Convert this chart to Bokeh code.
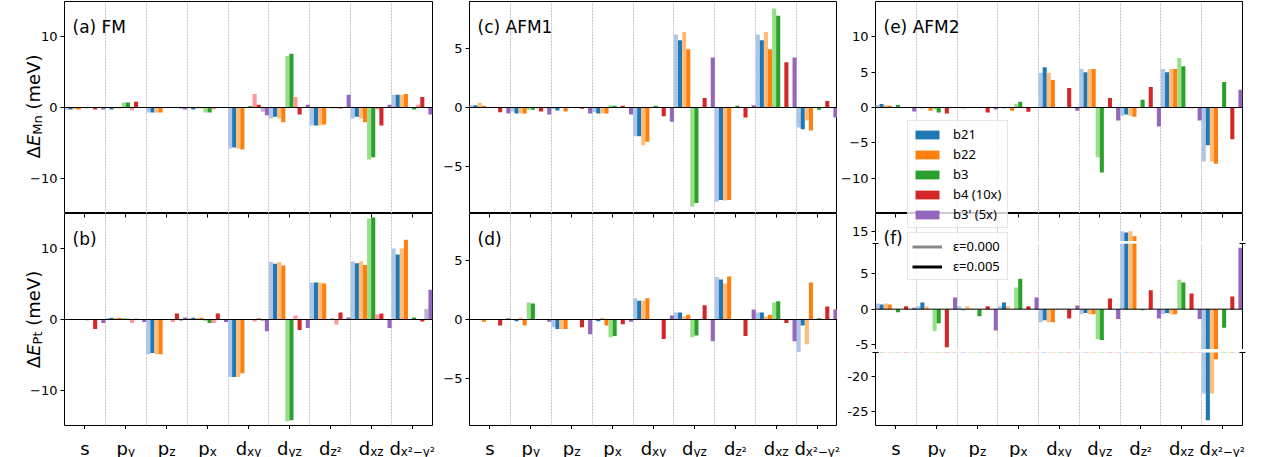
import math
from bokeh.plotting import figure
from bokeh.models import (Range1d, FixedTicker, Span, Label, Legend, LegendItem,
                          LinearAxis, ColumnDataSource, GridBox, Spacer)
from bokeh.core.properties import value
from bokeh.layouts import row, column
from bokeh.embed import file_html
from bokeh.resources import INLINE

# ---------------- data ----------------
ORBITALS = ["s", "py", "pz", "px", "dxy", "dyz", "dz2", "dxz", "dx2-y2"]
TICK_MAIN = ["s", "p", "p", "p", "d", "d", "d", "d", "d"]
TICK_SUB = ["", "y", "z", "x", "xy", "yz", "z²", "xz", "x²−y²"]
SERIES = ["b21", "b22", "b3", "b4 (10x)", "b3' (5x)"]
EPS_LABELS = ["ε=0.000", "ε=0.005"]

# (a) FM, Mn
a_b21_0 = [-0.3, 0.0, -0.7, 0.0, -5.8, -1.55, -2.55, -1.55, 1.8]
a_b21_5 = [-0.3, -0.3, -0.7, -0.3, -5.65, -1.3, -2.55, -1.3, 1.8]
a_b22_0 = [-0.3, -0.1, -0.7, -0.1, -5.8, -1.55, -2.55, -1.55, 1.8]
a_b22_5 = [-0.3, -0.1, -0.7, -0.1, -5.95, -2.1, -2.4, -2.1, 1.9]
a_b3_0 = [0.0, 0.7, 0.0, -0.7, 0.0, 7.3, 0.0, -7.35, 0.0]
a_b3_5 = [-0.1, 0.7, 0.0, -0.7, 0.2, 7.6, -0.1, -7.05, -0.3]
a_b4_0 = [0.0, -0.4, 0.0, -0.3, 1.9, 1.5, -0.1, -0.3, 0.4]
a_b4_5 = [-0.3, 0.8, 0.0, 0.0, 0.4, -1.0, -0.15, -2.55, 1.5]
a_b3p_0 = [0.0, 0.0, -0.2, 0.0, -0.6, 0.0, 0.0, 0.0, 0.0]
a_b3p_5 = [-0.3, 0.0, -0.3, 0.0, -1.1, 0.4, 1.8, 0.4, -1.0]

# (b) FM, Pt
b_b21_0 = [0.0, 0.2, -4.9, 0.2, -8.15, 8.15, 5.25, 8.2, 10.05]
b_b21_5 = [0.0, 0.25, -4.75, 0.25, -8.15, 7.9, 5.25, 7.95, 9.2]
b_b22_0 = [0.0, 0.25, -4.9, 0.25, -8.15, 8.15, 5.25, 8.2, 10.05]
b_b22_5 = [0.0, 0.25, -4.9, 0.25, -7.6, 7.65, 5.1, 7.7, 11.3]
b_b3_0 = [0.0, 0.2, 0.0, -0.2, 0.0, -14.4, 0.0, 14.3, 0.0]
b_b3_5 = [-0.1, 0.1, 0.0, -0.5, 0.0, -14.25, 0.15, 14.45, 0.3]
b_b4_0 = [0.0, -0.5, -0.35, -0.5, -0.3, 0.55, -0.7, 0.7, 0.0]
b_b4_5 = [-1.35, 0.1, 0.85, 0.85, 0.15, -1.5, 1.0, 0.85, -0.3]
b_b3p_0 = [0.0, 0.0, -0.2, 0.0, -0.2, 0.0, 0.1, 0.0, 1.5]
b_b3p_5 = [-0.5, -0.35, 0.3, -0.35, -1.65, -1.2, 0.3, -1.2, 4.2]

# (c) AFM1, Mn
c_b21_0 = [0.2, -0.35, -0.15, -0.4, -2.45, 6.2, -8.0, 6.2, -1.7]
c_b21_5 = [0.2, -0.5, -0.25, -0.5, -2.45, 5.7, -7.85, 5.7, -1.85]
c_b22_0 = [0.4, -0.5, 0.0, -0.5, -3.2, 6.4, -7.9, 6.4, -1.1]
c_b22_5 = [0.15, -0.5, -0.35, -0.5, -2.9, 4.95, -7.85, 4.95, -1.95]
c_b3_0 = [0.0, -0.2, 0.0, 0.2, 0.0, -8.4, 0.0, 8.4, 0.0]
c_b3_5 = [-0.05, -0.2, 0.0, 0.15, 0.15, -8.1, 0.15, 7.8, -0.2]
c_b4_0 = [0.0, 0.0, 0.0, 0.0, 0.0, 0.0, 0.0, 0.0, 0.0]
c_b4_5 = [-0.4, -0.35, -0.1, 0.15, -0.75, 0.8, -0.85, 3.85, 0.55]
c_b3p_0 = [0.0, 0.0, 0.0, 0.0, 0.0, 0.0, 0.0, 0.0, 0.0]
c_b3p_5 = [-0.5, -0.6, -0.5, -0.6, -1.2, 4.25, 0.2, 4.25, -0.85]

# (d) AFM1, Pt
d_b21_0 = [0.05, 0.0, -0.65, 0.0, 1.8, 0.6, 3.6, 0.6, -2.75]
d_b21_5 = [0.0, -0.15, -0.8, -0.15, 1.6, 0.6, 3.4, 0.6, -0.5]
d_b22_0 = [0.0, 0.15, -0.8, 0.15, 1.6, 0.25, 3.05, 0.25, -2.1]
d_b22_5 = [-0.2, -0.5, -0.8, -0.5, 1.8, 0.4, 3.65, 0.4, 3.15]
d_b3_0 = [0.0, 1.45, 0.0, -1.5, 0.0, -1.5, 0.0, 1.45, 0.0]
d_b3_5 = [0.0, 1.35, 0.0, -1.4, 0.0, -1.35, 0.0, 1.55, 0.1]
d_b4_0 = [0.0, 0.0, 0.0, 0.0, 0.0, 0.0, 0.0, 0.0, 0.0]
d_b4_5 = [-0.5, 0.0, -0.65, -0.4, -1.65, 1.2, -1.4, -0.3, 1.1]
d_b3p_0 = [0.0, 0.0, 0.0, 0.0, 0.0, 0.0, 0.0, 0.0, 0.0]
d_b3p_5 = [0.1, -0.2, -1.25, -0.2, 0.35, -1.85, 0.85, -1.85, 0.85]

# (e) AFM2, Mn
e_b21_0 = [0.35, 0.0, 0.0, 0.0, 4.9, 5.45, -1.15, 5.45, -7.65]
e_b21_5 = [0.5, -0.1, -0.1, -0.1, 5.7, 5.0, -1.0, 5.0, -5.35]
e_b22_0 = [0.35, 0.0, 0.0, 0.0, 4.9, 5.45, -1.15, 5.45, -7.65]
e_b22_5 = [0.25, -0.45, -0.05, -0.45, 3.9, 5.45, -1.3, 5.45, -7.95]
e_b3_0 = [0.0, -0.3, 0.0, 0.5, 0.0, -7.05, 0.0, 7.0, 0.0]
e_b3_5 = [0.35, -0.7, 0.0, 0.8, 0.0, -9.2, 1.1, 5.85, 3.6]
e_b4_0 = [0.0, 0.0, 0.0, 0.0, 0.0, 0.0, 0.0, 0.0, 0.0]
e_b4_5 = [-0.05, -0.85, -0.7, -0.6, 2.75, 1.35, 2.9, -0.1, -4.5]
e_b3p_0 = [0.0, 0.0, 0.0, 0.0, 0.0, 0.0, 0.0, 0.0, 0.0]
e_b3p_5 = [-0.55, 0.0, -0.3, 0.0, -0.45, -1.85, -2.7, -1.85, 2.5]

# (f) AFM2, Pt
f_b21_0 = [0.8, 0.4, 0.4, 0.4, -1.85, -0.7, 15.0, -0.7, -22.4]
f_b21_5 = [0.65, 0.95, -0.15, 0.95, -1.55, -0.55, 14.8, -0.55, -26.2]
f_b22_0 = [0.8, 0.4, 0.4, 0.4, -1.85, -0.7, 15.0, -0.7, -22.4]
f_b22_5 = [0.65, 0.0, 0.05, 0.0, -1.85, -0.7, 14.3, -0.7, -17.55]
f_b3_0 = [0.0, -3.1, 0.0, 3.05, 0.05, -4.25, 0.0, 4.15, 0.0]
f_b3_5 = [-0.45, -2.0, -1.0, 4.3, 0.0, -4.35, -0.15, 3.75, -2.6]
f_b4_0 = [0.0, 0.0, 0.0, 0.0, 0.0, 0.0, 0.0, 0.0, 0.0]
f_b4_5 = [0.4, -5.35, 0.4, 0.4, -1.3, 1.5, 2.65, 2.2, 1.8]
f_b3p_0 = [0.0, 0.0, 0.0, 0.0, 0.0, 0.0, 0.0, 0.0, 0.0]
f_b3p_5 = [0.2, 1.65, -3.0, 1.65, 0.5, -1.4, -1.3, -1.4, 8.65]

YT_15 = [-10, 0, 10]
YL_15 = ["−10", "0", "10"]
YT_9 = [-5, 0, 5]
YL_9 = ["−5", "0", "5"]
YT_E = [-10, -5, 0, 5, 10]
YL_E = ["−10", "−5", "0", "5", "10"]
YT_FTOP, YL_FTOP = [15], ["15"]
YT_FMID, YL_FMID = [-5, 0, 5], ["-5", "0", "5"]
YT_FBOT, YL_FBOT = [-25, -20], ["-25", "-20"]

# ---------------- style ----------------
DARK = ["#1f77b4", "#ff7f0e", "#2ca02c", "#d62728", "#9467bd"]
LIGHT = ["#aec7e8", "#ffbb78", "#98df8a", "#ff9896", "#c5b0d5"]
FONT = "DejaVu Sans"
ADV = {"s": .521, "p": .635, "d": .635, "x": .592, "y": .592, "z": .525, "²": .401,
       "−": .838, "Δ": .684, "E": .632, "M": .863, "n": .634, "P": .603, "t": .392,
       " ": .318, "(": .39, ")": .39, "m": .974, "e": .615, "V": .684}

TOTAL_W, TOTAL_H = 1261, 457
W1, W2, W3 = 436, 401, 424
L1, L2, L3 = 64, 33, 38
R1, R2, R3 = 4, 0, 19
HT = 213          # top-row figures (frame 212 px)
BB = 4            # border under the bottom-row frames (tick marks)
HB = 212 + BB
STRIP_H = TOTAL_H - HT - HB
OV_H = TOTAL_H - STRIP_H
# frame geometry used to centre the tick-label texts (pixels)
FRAMES_X = [(64, 368), (469, 368), (875, 367)]
MAIN_PX, SUB_PX = 18, 12


def tw(text, size):
    return sum(ADV.get(c, 0.6) for c in text) * size


def panel_data(prefix):
    g = globals()
    return [[g[f"{prefix}_{s}_0"], g[f"{prefix}_{s}_5"]] for s in ["b21", "b22", "b3", "b4", "b3p"]]


def make_fig(w, h, yr, bl, br, bt, bb, xaxis, outline=True):
    p = figure(width=w, height=h, x_range=Range1d(-0.5, 8.5), y_range=Range1d(yr[0], yr[1]),
               output_backend="svg", toolbar_location=None, title=None,
               x_axis_location="below" if xaxis else None,
               min_border_left=bl, min_border_right=br, min_border_top=bt, min_border_bottom=bb)
    p.background_fill_color = "white"
    p.border_fill_color = "white"
    p.ygrid.visible = False
    p.xgrid.ticker = FixedTicker(ticks=[i + 0.5 for i in range(len(ORBITALS) - 1)])
    p.xgrid.grid_line_color = "#c4c4c4"
    p.xgrid.grid_line_dash = "2 1"
    p.xgrid.grid_line_width = 1
    if outline:
        p.outline_line_color = "black"
        p.outline_line_width = 1
        p.outline_line_alpha = 1
    else:
        p.outline_line_color = None
    return p


def style_y(p, ticks, labels, outline=True, breaks=()):
    ax = p.yaxis[0]
    ax.ticker = FixedTicker(ticks=ticks, minor_ticks=list(breaks))
    ax.major_label_overrides = dict(zip(ticks, labels))
    ax.major_tick_out = 4
    ax.major_tick_in = 0
    ax.minor_tick_out = 3
    ax.minor_tick_in = 3
    ax.minor_tick_line_color = "black" if breaks else None
    ax.major_tick_line_color = "black"
    ax.major_label_text_font = FONT
    ax.major_label_text_font_size = "13px"
    ax.major_label_text_color = "black"
    ax.major_label_standoff = 3
    ax.axis_label = None
    ax.axis_line_color = None if outline else "black"


def style_x(p, outline=True):
    ax = p.xaxis[0]
    ticks = list(range(len(ORBITALS)))
    ax.ticker = FixedTicker(ticks=ticks)
    ax.major_label_overrides = {t: "" for t in ticks}
    ax.major_label_text_color = None
    ax.major_label_text_font_size = "0px"
    ax.major_label_standoff = 0
    ax.major_tick_out = 4
    ax.major_tick_in = 0
    ax.minor_tick_out = 0
    ax.minor_tick_line_color = None
    ax.major_tick_line_color = "black"
    ax.axis_label = None
    ax.axis_line_color = None if outline else "black"


def top_ticks(p, spine=False):
    # ticks of the panel above (shared x axis) reaching into this panel's top edge
    ta = LinearAxis(ticker=FixedTicker(ticks=list(range(len(ORBITALS)))),
                    major_label_text_color=None, major_label_text_font_size="0px",
                    major_label_standoff=0, major_tick_out=0, major_tick_in=4,
                    minor_tick_out=0, minor_tick_in=0, major_tick_line_color="black",
                    axis_line_color="black" if spine else None, axis_label=None)
    ta.major_label_overrides = {t: "" for t in range(len(ORBITALS))}
    p.add_layout(ta, "above")


def add_bars(p, data):
    for k in range(5):
        for e in range(2):
            j = 2 * k + e
            xs = [i + (j - 4.5) * 0.1 for i in range(len(ORBITALS))]
            src = ColumnDataSource(dict(x=xs, top=data[k][e]))
            p.vbar(x="x", top="top", bottom=0, width=0.1, source=src,
                   fill_color=(LIGHT if e == 0 else DARK)[k], line_color=None)


def add_zero(p):
    p.add_layout(Span(location=0, dimension="width", line_color="black", line_width=1))


def add_title(p, text):
    p.add_layout(Label(x=-0.5, y=p.y_range.end, x_offset=8, y_offset=-25, text=text,
                       text_font=FONT, text_font_size="17px", text_align="left",
                       text_baseline="alphabetic", text_color="black"))


def right_spine(p, breaks):
    ra = LinearAxis(ticker=FixedTicker(ticks=[], minor_ticks=list(breaks)),
                    major_label_text_color=None, major_label_text_font_size="0px",
                    major_tick_out=0, major_tick_in=0, minor_tick_out=3, minor_tick_in=3,
                    minor_tick_line_color="black", axis_line_color="black", axis_label=None)
    p.add_layout(ra, "right")


# ---------------- panels ----------------
fa = make_fig(W1, HT, (-15, 15), L1, R1, 1, 0, False)
add_bars(fa, panel_data("a")); add_zero(fa); style_y(fa, YT_15, YL_15)
add_title(fa, "(a) FM")

fb = make_fig(W1, HB, (-15, 15), L1, R1, 0, BB, True)
add_bars(fb, panel_data("b")); add_zero(fb); style_y(fb, YT_15, YL_15); style_x(fb)
top_ticks(fb)
add_title(fb, "(b)")

fc = make_fig(W2, HT, (-9, 9), L2, R2, 1, 0, False)
add_bars(fc, panel_data("c")); add_zero(fc); style_y(fc, YT_9, YL_9)
add_title(fc, "(c) AFM1")

fd = make_fig(W2, HB, (-9, 9), L2, R2, 0, BB, True)
add_bars(fd, panel_data("d")); add_zero(fd); style_y(fd, YT_9, YL_9); style_x(fd)
top_ticks(fd)
add_title(fd, "(d)")

fe = make_fig(W3, HT, (-15, 15), L3, R3, 1, 0, False)
add_bars(fe, panel_data("e")); add_zero(fe); style_y(fe, YT_E, YL_E)
add_title(fe, "(e) AFM2")

# (f) broken axis: three stacked segments separated by thin gaps
FT_RANGE = (13.55, 17.49)
FM_RANGE = (-5.68, 9.25)
FB_RANGE = (-26.93, -16.6)
fdat = panel_data("f")
ft = make_fig(W3, 28, FT_RANGE, L3, R3, 0, 0, False, outline=False)
add_bars(ft, fdat)
style_y(ft, YT_FTOP, YL_FTOP, outline=False, breaks=[FT_RANGE[0] + 0.02])
right_spine(ft, [FT_RANGE[0] + 0.02])
top_ticks(ft, spine=True)

fm = make_fig(W3, 106, FM_RANGE, L3, R3, 0, 0, False, outline=False)
add_bars(fm, fdat); add_zero(fm)
mb = [FM_RANGE[0] + 0.02, FM_RANGE[1] - 0.02]
style_y(fm, YT_FMID, YL_FMID, outline=False, breaks=mb)
right_spine(fm, mb)

fbt = make_fig(W3, 73 + BB, FB_RANGE, L3, R3, 0, BB, True, outline=False)
add_bars(fbt, fdat)
style_y(fbt, YT_FBOT, YL_FBOT, outline=False, breaks=[FB_RANGE[1] - 0.02])
right_spine(fbt, [FB_RANGE[1] - 0.02])
style_x(fbt, outline=False)

col3 = column(fe, ft, Spacer(width=W3, height=2), fm, Spacer(width=W3, height=3), fbt)

# ---------------- strip of x tick labels (pixel coordinates, y down) ----------------
strip = figure(width=TOTAL_W, height=STRIP_H, x_range=Range1d(0, TOTAL_W),
               y_range=Range1d(STRIP_H, 0), output_backend="svg", toolbar_location=None,
               title=None, x_axis_location=None, y_axis_location=None, min_border=0)
strip.outline_line_color = None
strip.grid.visible = False
strip.background_fill_color = "white"
strip.border_fill_color = "white"
y_base = 448 - OV_H
mx, mt, sx, st = [], [], [], []
for fl, fw in FRAMES_X:
    for i, (m, s) in enumerate(zip(TICK_MAIN, TICK_SUB)):
        cx = fl + (i + 0.5) * fw / len(ORBITALS)
        wm, ws = tw(m, MAIN_PX), tw(s, SUB_PX)
        left = cx - (wm + ws) / 2
        mx.append(left); mt.append(m)
        if s:
            sx.append(left + wm); st.append(s)
strip.text(x=mx, y=[y_base] * len(mx), text=mt, text_font=value(FONT),
           text_font_size=value(f"{MAIN_PX}px"), text_align="left",
           text_baseline="alphabetic", text_color="black")
strip.text(x=sx, y=[y_base + 3] * len(sx), text=st, text_font=value(FONT),
           text_font_size=value(f"{SUB_PX}px"), text_align="left",
           text_baseline="alphabetic", text_color="black")

main = column(row(column(fa, fb), column(fc, fd), col3), strip)

# ---------------- transparent overlay (pixel coordinates, y down) ----------------
ov = figure(width=TOTAL_W, height=OV_H, x_range=Range1d(0, TOTAL_W),
            y_range=Range1d(OV_H, 0),
            output_backend="svg", toolbar_location=None, title=None,
            x_axis_location=None, y_axis_location=None, min_border=0)
ov.background_fill_color = None
ov.border_fill_color = None
ov.outline_line_color = None
ov.grid.visible = False


def ov_label(x, y, text, size, style="normal", angle=0.0, font=FONT):
    ov.add_layout(Label(x=x, y=y, text=text, text_font=font, text_font_size=f"{size}px",
                        text_font_style=style, angle=angle, text_align="left",
                        text_baseline="alphabetic", text_color="black"))


# panel (f) title (sits across the broken-axis segments)
ov_label(FRAMES_X[2][0] + 8, 237, "(f)", 17)

# y axis labels  ΔE_Mn (meV), ΔE_Pt (meV)
for sub, yc in [("Mn", 106), ("Pt", 319)]:
    pieces = [("Δ", 18, "normal", 0), ("E", 18, "italic", 0), (sub, 13, "normal", 4),
              (" ", 18, "normal", 0), ("(meV)", 18, "normal", 0)]
    total = sum(tw(t, s) for t, s, _, _ in pieces)
    pos = yc + total / 2
    for t, s, stl, drop in pieces:
        if t.strip():
            ov_label(33 + drop, pos, t, s, stl, angle=math.pi / 2)
        pos -= tw(t, s)


def legend_style(lg, pad):
    lg.label_text_font = "Noto Sans"
    lg.label_text_font_size = "13px"
    lg.label_text_color = "black"
    lg.glyph_width = 30
    lg.glyph_height = 11
    lg.label_standoff = 11
    lg.padding = pad
    lg.spacing = 2
    lg.margin = 0
    lg.label_height = 16
    lg.label_width = 50
    lg.border_line_color = "#cccccc"
    lg.border_line_width = 1
    lg.background_fill_color = "white"
    lg.background_fill_alpha = 0.8


nan = float("nan")
items = []
for k, name in enumerate(SERIES):
    r = ov.vbar(x=[nan], top=[nan], width=1, fill_color=DARK[k], line_color=None)
    items.append(LegendItem(label=name, renderers=[r]))
lg1 = Legend(items=items, location=(907, OV_H - 228))
legend_style(lg1, 4)
ov.add_layout(lg1)

items = []
for lab, col in zip(EPS_LABELS, ["#888888", "black"]):
    r = ov.line(x=[nan, nan], y=[nan, nan], line_color=col, line_width=3)
    items.append(LegendItem(label=lab, renderers=[r]))
lg2 = Legend(items=items, location=(907, OV_H - 280))
legend_style(lg2, 4)
ov.add_layout(lg2)

layout = GridBox(children=[(main, 0, 0), (ov, 0, 0)])
open("out.html", "w").write(file_html(layout, INLINE))
